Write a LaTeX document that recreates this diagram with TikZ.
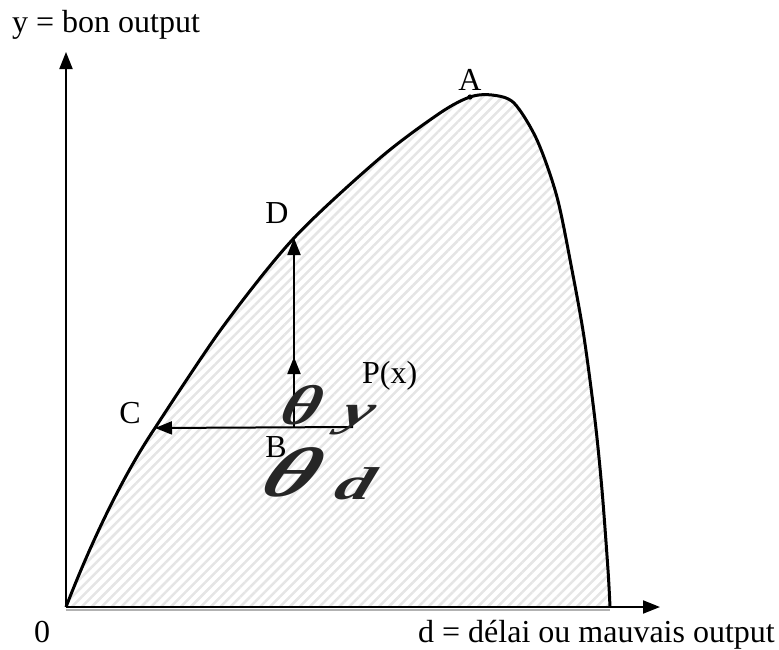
\documentclass[tikz,border=0pt]{standalone}
\usepackage{fontspec}
\setmainfont{Liberation Serif}
\usetikzlibrary{arrows.meta,patterns.meta}
\begin{document}
\begin{tikzpicture}[x=1pt,y=-1pt,
  lbl/.style={inner sep=0pt, font=\fontsize{32}{38}\selectfont},
  tip/.style={-{Triangle[length=17pt,width=13pt]}},
  axis/.style={line width=2pt,tip},
  arr/.style={line width=2pt,tip},
  curve/.style={line width=3pt,line join=round},
  hatch/.style={pattern={Lines[angle=45,distance=7pt,line width=2.5pt]},pattern color=gray!20},
  glyph/.style={inner sep=0pt,transform shape,text=black!85}]
\useasboundingbox (0,0) rectangle (779,649);
% key points
\coordinate (O) at (66,607);
\coordinate (Ytop) at (66,52);
\coordinate (Xend) at (660,607);
\coordinate (C) at (155,428);
\coordinate (D) at (294,238);
\coordinate (A) at (470,97);
\coordinate (P) at (294,427);
\coordinate (M) at (294,357);
\coordinate (Q) at (352,427);
\coordinate (Qt) at (352,419);
\def\frontier{(O) .. controls (88,550) and (120,480) .. (C) -- plot[smooth,tension=0.5] coordinates {(155,428) (222,328) (294,238) (380,158) (440,113) (470,97) (492,95) (514,103) (537,140) (557,197) (572,270) (584,337) (595,420) (602,490) (608,570) (610,607)}}
% hatched region
\fill[hatch] \frontier -- cycle;
\draw[gray!60,line width=2pt] (66,609.5) -- (610,609.5);
% axes
\draw[axis] (O) -- (Ytop);
\draw[axis] (O) -- (Xend);
% frontier curve
\draw[curve] \frontier;
\fill (A) circle (2.6pt);
% arrows from P
\draw[arr] (P) -- (D);
\draw[arr] (P) -- (M);
\draw[arr] (Qt) -- (Q) -- (C);
% labels
\node[lbl,anchor=base west] (ylab) at (12,32) {y = bon output};
\node[lbl,anchor=base west] (zero) at (34,642) {0};
\node[lbl,anchor=base east] (xlab) at (775,642) {d = délai ou mauvais output};
\node[lbl,anchor=base] (Alab) at (470,90) {A};
\node[lbl,anchor=base] (Dlab) at (277,223) {D};
\node[lbl,anchor=base] (Clab) at (130,423) {C};
\node[lbl,anchor=base] (Blab) at (276,457) {B};
\node[lbl,anchor=base west] (Plab) at (362,383) {P(x)};
% theta glyphs
\node[glyph,xscale=1.3,xslant=0.25,font=\fontsize{56}{56}\selectfont\itshape\bfseries] (thy) at (303,405) {θ};
\node[glyph,xscale=1.6,xslant=0.2,font=\fontsize{44}{44}\selectfont\itshape\bfseries] (suby) at (357,420) {y};
\node[glyph,xscale=1.4,xslant=0.35,font=\fontsize{70}{70}\selectfont\itshape\bfseries] (thd) at (294,472) {θ};
\node[glyph,xscale=1.6,xslant=0.2,font=\fontsize{46}{46}\selectfont\itshape\bfseries] (subd) at (356,484) {d};
\end{tikzpicture}
\end{document}
